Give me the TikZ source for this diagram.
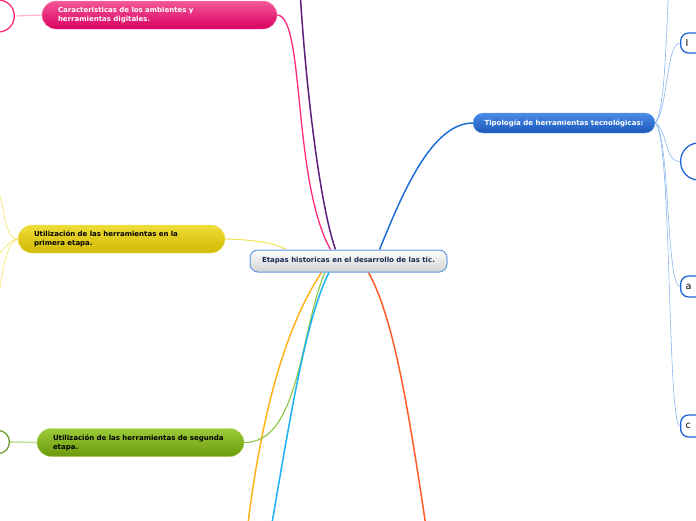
\documentclass[tikz,border=0pt]{standalone}
\usepackage{fontspec}
\setmainfont{DejaVu Sans}
\usetikzlibrary{backgrounds}
\definecolor{pinkline}{HTML}{FF2A7F}
\definecolor{purpleline}{HTML}{5B1F7A}
\definecolor{blueline}{HTML}{1F6FD6}
\definecolor{yellowline}{HTML}{F2E04A}
\definecolor{greenline}{HTML}{8CC63F}
\definecolor{orangeline}{HTML}{FFB31A}
\definecolor{cyanline}{HTML}{1AB2F5}
\definecolor{redline}{HTML}{FF5C26}
\definecolor{thinblue}{HTML}{8AB4F0}
\definecolor{leafblue}{HTML}{1E66D8}
\definecolor{navy}{HTML}{1A2A50}
\definecolor{pinktop}{HTML}{F4589A}
\definecolor{pinkbot}{HTML}{D8005F}
\definecolor{yellowtop}{HTML}{EEDC38}
\definecolor{yellowbot}{HTML}{D2BA02}
\definecolor{greentop}{HTML}{9CCB38}
\definecolor{greenbot}{HTML}{6A9A0C}
\definecolor{bluetop}{HTML}{4A8CE6}
\definecolor{bluebot}{HTML}{1A58BC}

\begin{document}
\begin{tikzpicture}[x=1pt,y=-1pt]
			\tikzset{line/.style={draw,line width=1.5pt}}
			\tikzset{thinline/.style={draw,line width=0.6pt}}
			\tikzset{topic/.style={rounded corners=14pt,inner xsep=16pt,inner ysep=0pt,minimum height=28pt,align=left,font=\bfseries\fontsize{7}{9}\selectfont}}
			\tikzset{leaf/.style={draw=leafblue,fill=white,line width=1.3pt,rounded corners=8pt,anchor=west,text width=50pt,inner xsep=5pt,inner ysep=0pt,align=left,font=\fontsize{9.5}{11}\selectfont}}
			\tikzset{ring/.style={fill=white,line width=1.3pt,anchor=east,minimum width=50pt}}

			\clip (0,0) rectangle (696,520);

			% main topics
			\node[draw=blueline!70,line width=1pt,rounded corners=8pt,top color=white,bottom color=black!18,minimum width=197pt,minimum height=22pt,inner sep=0pt,text=navy,font=\bfseries\fontsize{7}{9}\selectfont] (etapas) at (348.5,261) {Etapas historicas en el desarrollo de las tic.};

			\node[topic,draw=pinktop!70,top color=pinktop,bottom color=pinkbot,text=white,text width=203pt] (caracteristicas) at (159.5,15) {Caracteristicas de los ambientes y\\herramientas digitales.};
			\node[topic,draw=yellowtop!70,top color=yellowtop,bottom color=yellowbot,text=black,text width=175pt] (primera) at (121.5,239) {Utilización de las herramientas en la\\primera etapa.};
			\node[topic,draw=greentop!70,top color=greentop,bottom color=greenbot,text=black,text width=175pt] (segunda) at (140.5,442.5) {Utilización de las herramientas de segunda\\etapa.};
			\node[draw=bluetop!80,rounded corners=10pt,top color=bluetop,bottom color=bluebot,text=white,minimum width=182pt,minimum height=20pt,inner sep=0pt,font=\bfseries\fontsize{7}{9}\selectfont] (tipologia) at (564,123) {Tipología de herramientas tecnológicas:};

			% cut leaves
			\node[ring,draw=pinkline,minimum height=32pt,rounded corners=16pt] (pinkleaf) at (15,16) {};
			\node[ring,draw=greenline!80!black,minimum height=23pt,rounded corners=11pt] (greenleaf) at (10,442) {};
			\node[leaf,minimum height=20pt] (leafI) at (680,43) {I};
			\node[leaf,minimum height=37pt,rounded corners=18pt] (leafO) at (680,161.5) {};
			\node[leaf,minimum height=21pt] (leafA) at (680,286.5) {a};
			\node[leaf,minimum height=22pt] (leafC) at (680,426) {c};

			\coordinate (purpletop) at (299,-30);
			\coordinate (orangeend) at (246,540);
			\coordinate (cyanend) at (269,540);
			\coordinate (redend) at (428,540);
			\coordinate (thintop) at (669,-20);
			\coordinate (yup) at (-4,180);
			\coordinate (ymid) at (-4,256);
			\coordinate (ylow) at (-2,300);

			\begin{scope}[on background layer]
				\path[line, pinkline, line width=1.3pt] (caracteristicas.east) .. controls (305,16) and (292,180) .. ([xshift=-18pt]etapas.north);
				\path[line, purpleline] ([xshift=-13pt]etapas.north) .. controls (318,200) and (303,60) .. (purpletop);
				\path[line, blueline] ([xshift=31pt]etapas.north) .. controls (400,200) and (430,123) .. (tipologia.west);
				\path[line, yellowline, line width=0.9pt] (primera.east) .. controls (262,240) and (275,244) .. ([xshift=-62pt]etapas.north);

				\path[line, orangeline] ([xshift=-27pt]etapas.south) .. controls (290,320) and (262,400) .. (orangeend);
				\path[line, greenline, line width=1.1pt] ([xshift=-23.5pt]etapas.south) .. controls (300,330) and (300,443) .. (segunda.east);
				\path[line, cyanline] ([xshift=-19.5pt]etapas.south) .. controls (305,320) and (290,420) .. (cyanend);
				\path[line, redline] ([xshift=20pt]etapas.south) .. controls (395,320) and (410,420) .. (redend);

				\path[thinline, thinblue] (tipologia.east) .. controls (665,110) and (666,40) .. (thintop);
				\path[thinline, thinblue] (tipologia.east) .. controls (668,110) and (666,43) .. (leafI.west);
				\path[thinline, thinblue] (tipologia.east) .. controls (668,130) and (664,161.5) .. (leafO.west);
				\path[thinline, thinblue] (tipologia.east) .. controls (670,135) and (666,286.5) .. (leafA.west);
				\path[thinline, thinblue] (tipologia.east) .. controls (672,135) and (667,426) .. (leafC.west);

				\path[thinline, yellowline!70, line width=0.8pt] (primera.west) .. controls (5,239) and (6,215) .. (yup);
				\path[thinline, yellowline!70, line width=0.8pt] (primera.west) .. controls (8,240) and (5,250) .. (ymid);
				\path[thinline, yellowline!70, line width=0.8pt] (primera.west) .. controls (8,242) and (4,260) .. (ylow);

				\path[line, pinkline!35, line width=1.2pt] (caracteristicas.west) -- (pinkleaf.east);
				\path[line, greenline!50, line width=1.6pt] (segunda.west) -- (greenleaf.east);
			\end{scope}
		\end{tikzpicture}
\end{document}
